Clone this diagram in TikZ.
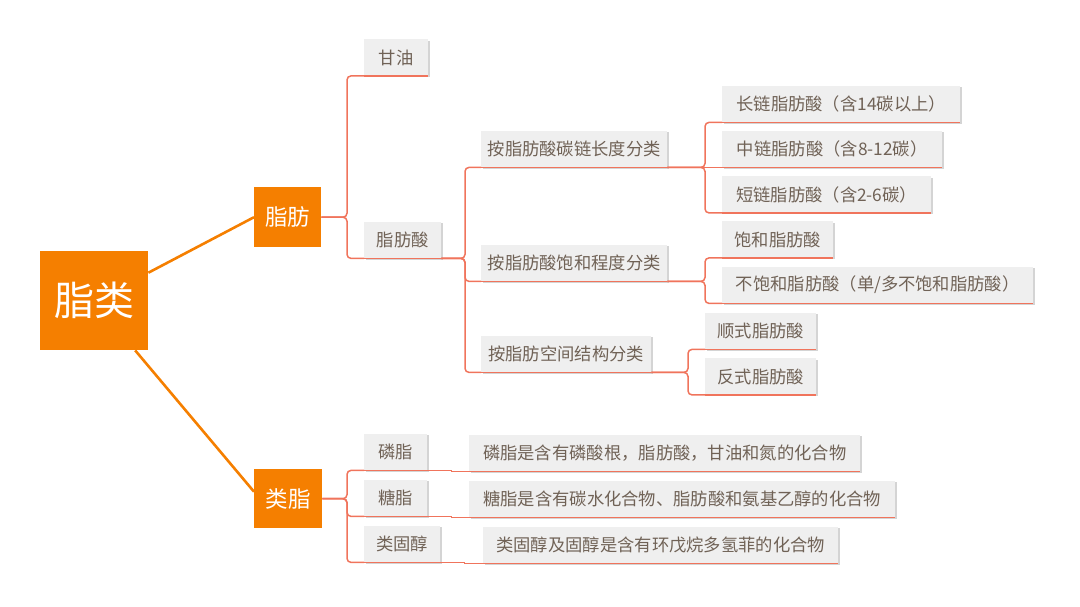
\documentclass[tikz,border=0pt]{standalone}
\usepackage{fontspec}
\setmainfont{Noto Sans CJK SC}
\usetikzlibrary{shadows}
\definecolor{org}{RGB}{245,127,0}
\definecolor{ln}{RGB}{240,116,92}
\definecolor{bx}{RGB}{239,239,239}
\definecolor{sh}{RGB}{212,212,212}
\definecolor{tx}{RGB}{112,98,86}
\tikzset{
  leaf/.style={fill=bx, text=tx, font=\fontsize{17.3}{20}\selectfont, minimum height=36.5pt,
    inner sep=0pt, anchor=north west,
    drop shadow={shadow xshift=1.6pt, shadow yshift=-1.6pt, fill=sh, opacity=1}},
  main/.style={fill=org, text=white, inner sep=0pt, anchor=north west},
  uline/.style={draw=ln, line width=1.5pt},
  conn/.style={draw=ln, line width=1.5pt, rounded corners=4pt},
  rootline/.style={draw=org, line width=2.6pt}
}
\begin{document}
\begin{tikzpicture}[x=1pt,y=-1pt]
\useasboundingbox (0,0) rectangle (1080,606);
% main nodes
\node[main, minimum width=108pt, minimum height=99pt, font=\fontsize{40}{44}\selectfont] (root) at (40,251) {脂类};
\node[main, minimum width=67pt, minimum height=60pt, font=\fontsize{22.5}{26}\selectfont] (fat) at (254,187) {脂肪};
\node[main, minimum width=68pt, minimum height=59pt, font=\fontsize{22.5}{26}\selectfont] (lip) at (254,469) {类脂};
% level 2
\node[leaf, minimum width=64pt] (gly) at (364,39) {甘油};
\node[leaf, minimum width=77pt] (fa) at (364,221.5) {脂肪酸};
% level 3
\node[leaf, minimum width=186pt] (c1) at (481,130.5) {按脂肪酸碳链长度分类};
\node[leaf, minimum width=186pt] (c2) at (481,244.5) {按脂肪酸饱和程度分类};
\node[leaf, minimum width=170pt] (c3) at (481,335.5) {按脂肪空间结构分类};
% level 4
\node[leaf, minimum width=238pt] (l1) at (722,85.5) {长链脂肪酸（含14碳以上）};
\node[leaf, minimum width=220pt] (l2) at (722,130.5) {中链脂肪酸（含8-12碳）};
\node[leaf, minimum width=209pt] (l3) at (722,176) {短链脂肪酸（含2-6碳）};
\node[leaf, minimum width=111pt] (s1) at (722,221) {饱和脂肪酸};
\node[leaf, minimum width=311pt] (s2) at (722,266.5) {不饱和脂肪酸（单/多不饱和脂肪酸）};
\node[leaf, minimum width=111pt] (t1) at (705,312.5) {顺式脂肪酸};
\node[leaf, minimum width=111pt] (t2) at (705,358) {反式脂肪酸};
% lipids
\node[leaf, minimum width=63pt] (p1) at (364,433.5) {磷脂};
\node[leaf, minimum width=63pt] (p2) at (364,479.5) {糖脂};
\node[leaf, minimum width=76pt] (p3) at (364,525.5) {类固醇};
\node[leaf, minimum width=391pt] (d1) at (469,434.5) {磷脂是含有磷酸根，脂肪酸，甘油和氮的化合物};
\node[leaf, minimum width=426pt] (d2) at (469,480.5) {糖脂是含有碳水化合物、脂肪酸和氨基乙醇的化合物};
\node[leaf, minimum width=355pt] (d3) at (483,526.5) {类固醇及固醇是含有环戊烷多氢菲的化合物};
% underlines
\foreach \n in {gly,fa,c1,c2,c3,l1,l2,l3,s1,s2,t1,t2,p1,p2,p3,d1,d2,d3}
  \draw[uline] (\n.south west) -- (\n.south east);
% bracket x positions
\coordinate (bA) at (347,0);
\coordinate (bB) at (465,0);
\coordinate (bC) at (705,0);
\coordinate (bD) at (688,0);
% root lines
\draw[rootline] ([yshift=28pt]root.east) -- (fat.west);
\draw[rootline] ([xshift=41pt]root.south) -- ([yshift=7pt]lip.west);
% fat
\draw[conn] (fat.east) -- (bA |- fat.east) |- (gly.south west);
\draw[conn] (fat.east) -- (bA |- fat.east) |- (fa.south west);
% fatty acid
\draw[conn] (fa.south east) -- (bB |- fa.south east) |- (c1.south west);
\draw[conn] (fa.south east) -- (bB |- fa.south east) |- (c2.south west);
\draw[conn] (fa.south east) -- (bB |- fa.south east) |- (c3.south west);
% chain length
\draw[conn] (c1.south east) -- (bC |- c1.south east) |- (l1.south west);
\draw[conn] (c1.south east) -- (l2.south west);
\draw[conn] (c1.south east) -- (bC |- c1.south east) |- (l3.south west);
% saturation
\draw[conn] (c2.south east) -- (bC |- c2.south east) |- (s1.south west);
\draw[conn] (c2.south east) -- (bC |- c2.south east) |- (s2.south west);
% structure
\draw[conn] (c3.south east) -- (bD |- c3.south east) |- (t1.south west);
\draw[conn] (c3.south east) -- (bD |- c3.south east) |- (t2.south west);
% lipids
\draw[conn] (lip.east) -- (bA |- lip.east) |- (p1.south west);
\draw[conn] (lip.east) -- (bA |- lip.east) |- (p2.south west);
\draw[conn] (lip.east) -- (bA |- lip.east) |- (p3.south west);
\draw[draw=ln, line width=1.5pt] (p1.south east) -- ++(24,0) |- (d1.south west);
\draw[draw=ln, line width=1.5pt] (p2.south east) -- ++(24,0) |- (d2.south west);
\draw[draw=ln, line width=1.5pt] (p3.south east) -- ++(24,0) |- (d3.south west);
\end{tikzpicture}
\end{document}
